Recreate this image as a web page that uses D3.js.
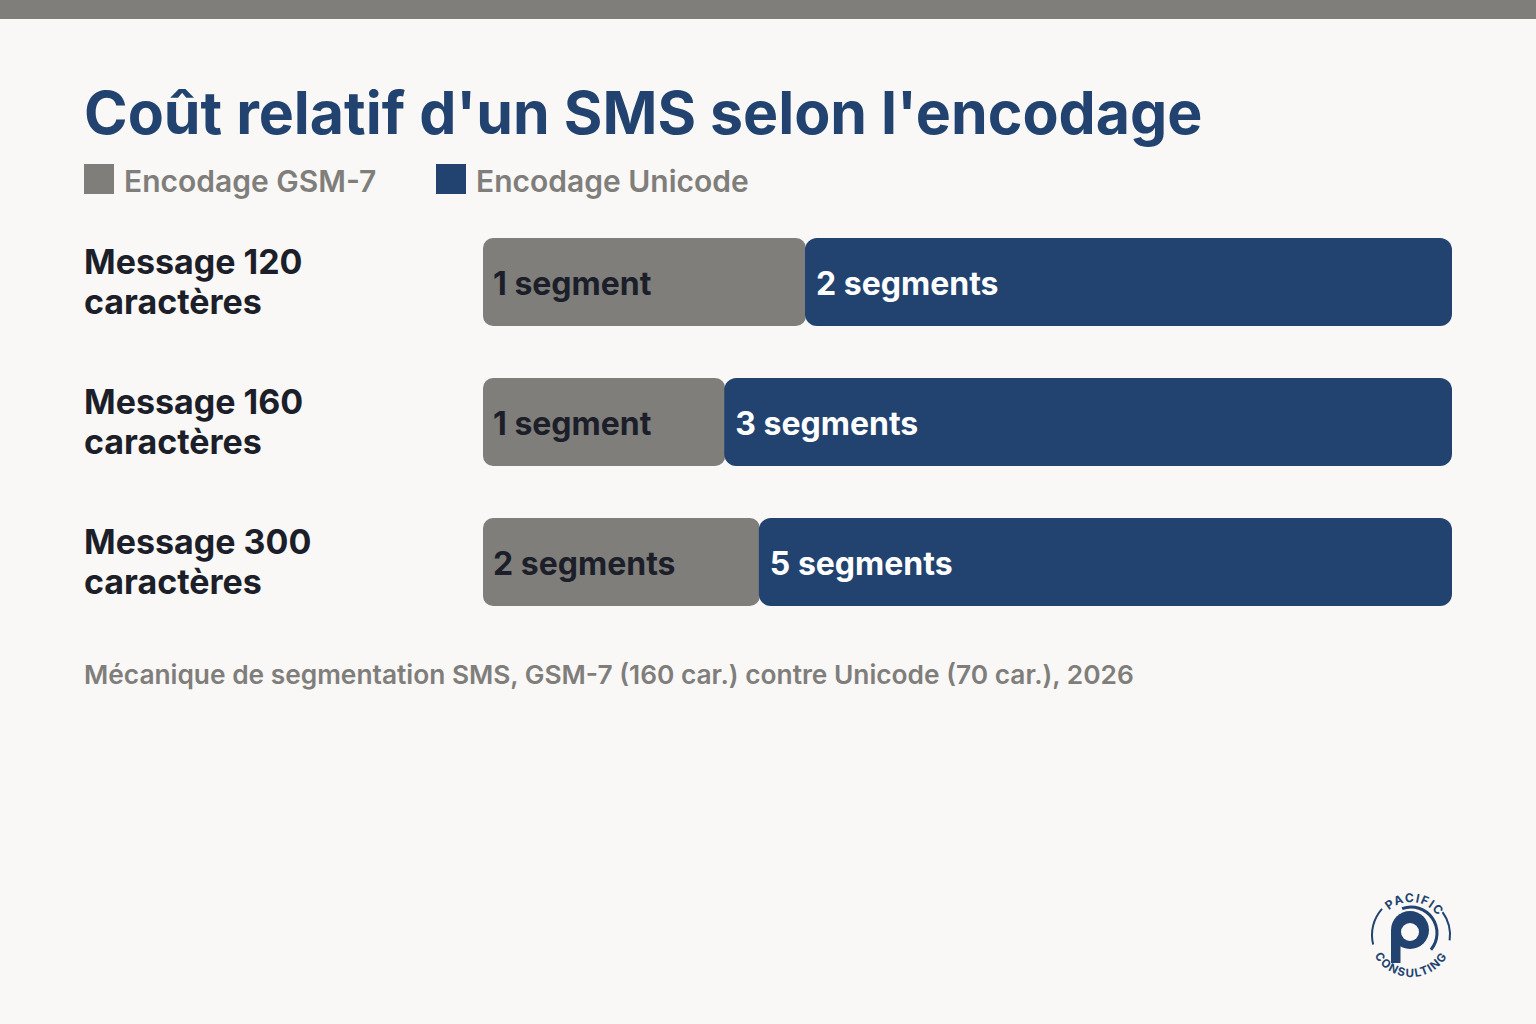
<!DOCTYPE html>
<html>
<head>
<meta charset="utf-8">
<script src="https://cdn.jsdelivr.net/npm/d3@7"></script>
<style>
  body { margin: 0; background: #f9f8f6; }
  svg { display: block; font-family: Inter, "Noto Sans", sans-serif; }
</style>
</head>
<body>
<svg id="chart" width="1536" height="1024"></svg>
<script>
const categories = ['Message 120 caractères', 'Message 160 caractères', 'Message 300 caractères'];
const gsmSegments = [1, 1, 2];
const unicodeSegments = [2, 3, 5];
const seriesNames = ['Encodage GSM-7', 'Encodage Unicode'];
const colors = ['#7f7e7b', '#22436f'];
const title = "Coût relatif d'un SMS selon l'encodage";
const note = 'Mécanique de segmentation SMS, GSM-7 (160 car.) contre Unicode (70 car.), 2026';

const bg = '#f9f8f6';
const navy = '#22436f';
const svg = d3.select('#chart');
svg.append('rect').attr('width', 1536).attr('height', 1024).attr('fill', bg);
svg.append('rect').attr('width', 1536).attr('height', 19).attr('fill', '#7f7e7b');

svg.append('text')
  .attr('x', 84).attr('y', 134)
  .attr('font-size', 59).attr('font-weight', 700)
  .attr('fill', navy)
  .text(title);

// legend
const legend = svg.append('g').attr('transform', 'translate(84,164)');
const legendX = [0, 352];
seriesNames.forEach((name, i) => {
  const g = legend.append('g').attr('transform', `translate(${legendX[i]},0)`);
  g.append('rect').attr('width', 30).attr('height', 30).attr('fill', colors[i]);
  g.append('text').attr('x', 40).attr('y', 28)
    .attr('font-size', 30).attr('font-weight', 600).attr('fill', '#7f7e7b')
    .text(name);
});

const data = categories.map((c, i) => ({
  cat: c,
  gsm: gsmSegments[i],
  uni: unicodeSegments[i],
  total: gsmSegments[i] + unicodeSegments[i]
}));

// each bar is the share of the combined segment count
const x = d3.scaleLinear().domain([0, 1]).range([483, 1452]);
const y = d3.scaleBand().domain(categories).range([238, 606]).paddingInner(52 / 140).paddingOuter(0);
const barH = y.bandwidth();

const rows = svg.selectAll('g.row').data(data).enter().append('g')
  .attr('class', 'row')
  .attr('transform', d => `translate(0,${y(d.cat)})`);

rows.append('text')
  .attr('x', 84).attr('y', 36)
  .attr('font-size', 34).attr('font-weight', 700).attr('fill', '#1c1f29')
  .call(t => {
    t.append('tspan').attr('x', 84).attr('dy', 0).text(d => d.cat.split(' ').slice(0, 2).join(' '));
    t.append('tspan').attr('x', 84).attr('dy', 40).text(d => d.cat.split(' ').slice(2).join(' '));
  });

rows.append('rect')
  .attr('x', x(0)).attr('y', 0)
  .attr('width', d => x(d.gsm / d.total) - x(0))
  .attr('height', barH).attr('rx', 10)
  .attr('fill', colors[0]);

rows.append('rect')
  .attr('x', d => x(d.gsm / d.total) - 1).attr('y', 0)
  .attr('width', d => x(1) - x(d.gsm / d.total) + 1)
  .attr('height', barH).attr('rx', 12)
  .attr('fill', colors[1]);

const segLabel = n => n === 1 ? '1 segment' : `${n} segments`;

rows.append('text')
  .attr('x', x(0) + 10).attr('y', 57)
  .attr('font-size', 32).attr('font-weight', 700).attr('fill', '#1c1f29')
  .text(d => segLabel(d.gsm));

rows.append('text')
  .attr('x', d => x(d.gsm / d.total) + 10).attr('y', 57)
  .attr('font-size', 32).attr('font-weight', 700).attr('fill', '#ffffff')
  .text(d => segLabel(d.uni));

svg.append('text')
  .attr('x', 84).attr('y', 684)
  .attr('font-size', 26.3).attr('font-weight', 600).attr('fill', '#7f7e7b')
  .text(note);

// logo
const logo = svg.append('g').attr('transform', 'translate(1411,935)');
const rad = a => a * Math.PI / 180;
const pt = (r, a) => `${(r * Math.cos(rad(a))).toFixed(2)},${(r * Math.sin(rad(a))).toFixed(2)}`;
// ring segments on the sides
logo.append('path').attr('d', `M ${pt(39, 166)} A 39,39 0 0 1 ${pt(39, 222)}`)
  .attr('fill', 'none').attr('stroke', navy).attr('stroke-width', 2);
logo.append('path').attr('d', `M ${pt(39, -36)} A 39,39 0 0 1 ${pt(39, 8)}`)
  .attr('fill', 'none').attr('stroke', navy).attr('stroke-width', 2);
const defs = logo.append('defs');
defs.append('path').attr('id', 'arcTop').attr('d', `M ${pt(33, 180)} A 33,33 0 0 1 ${pt(33, 0)}`);
defs.append('path').attr('id', 'arcBot').attr('d', `M ${pt(42, 180)} A 42,42 0 0 0 ${pt(42, 0)}`);
logo.append('text').attr('font-size', 12).attr('font-weight', 700).attr('fill', navy).attr('letter-spacing', 1.4)
  .append('textPath').attr('href', '#arcTop').attr('startOffset', '54%').attr('text-anchor', 'middle')
  .text('PACIFIC');
logo.append('text').attr('font-size', 11.5).attr('font-weight', 700).attr('fill', navy).attr('letter-spacing', 1.3)
  .append('textPath').attr('href', '#arcBot').attr('startOffset', '50%').attr('text-anchor', 'middle')
  .text('CONSULTING');
// central P mark
const pm = logo.append('g').attr('transform', 'translate(-1,-5)');
pm.append('path').attr('d', `M ${pt(26, -110)} A 26,26 0 0 1 ${pt(26, 40)}`)
  .attr('transform', 'translate(1,3)')
  .attr('fill', 'none').attr('stroke', navy).attr('stroke-width', 3);
pm.append('circle').attr('r', 19).attr('fill', navy);
pm.append('rect').attr('x', -19).attr('y', 0).attr('width', 9.5).attr('height', 33).attr('fill', navy);
pm.append('circle').attr('r', 9).attr('cy', 2).attr('fill', bg);
</script>
</body>
</html>
